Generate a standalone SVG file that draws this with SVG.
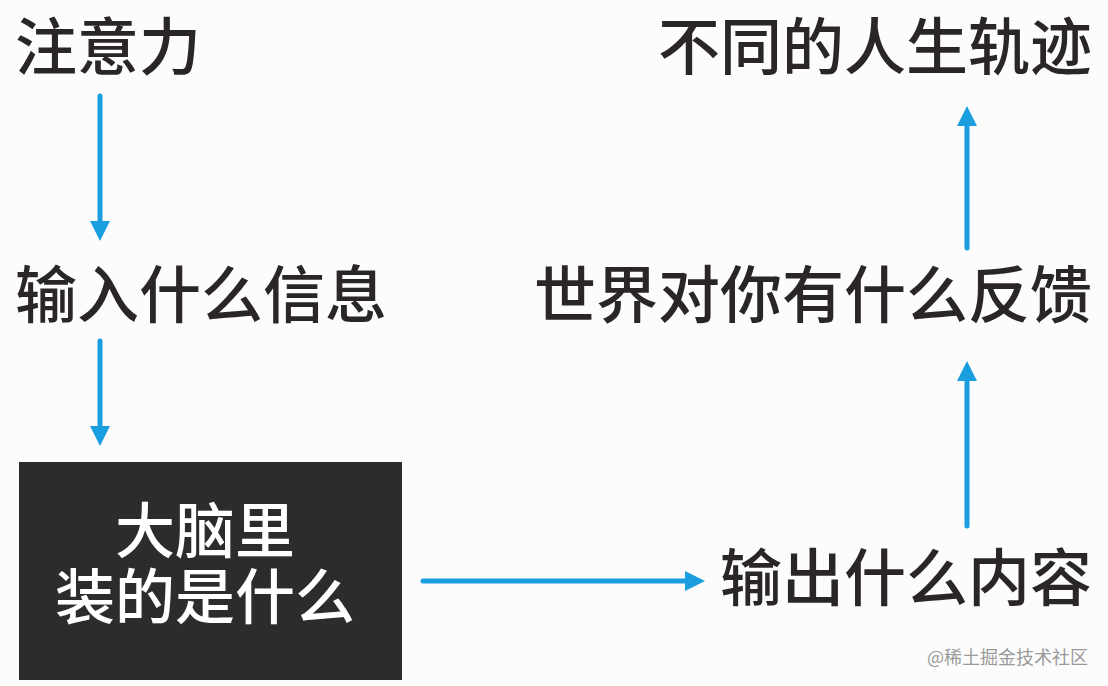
<svg xmlns="http://www.w3.org/2000/svg" width="1108" height="686" viewBox="0 0 1108 686">
<defs>
<style>
.t{font-family:"Noto Sans CJK SC","Noto Sans",sans-serif;font-size:62px;fill:#2a2628;font-weight:500}
.w{font-family:"Noto Sans CJK SC","Noto Sans",sans-serif;font-size:60px;fill:#ffffff;font-weight:500}
.c{stroke:#1a9ee0;stroke-width:5;fill:none;stroke-linecap:round;marker-end:url(#ah)}
.wm{font-family:"Noto Sans CJK SC","Noto Sans",sans-serif;font-size:18px;fill:#9a9a9a}
</style>
<marker id="ah" markerWidth="4" markerHeight="4" refX="1" refY="2" orient="auto" markerUnits="strokeWidth">
<path d="M0,0 L4,2 L0,4 Z" fill="#1a9ee0"/>
</marker>
</defs>
<rect width="1108" height="686" fill="#fcfcfd"/>
<g id="n1"><text class="t" x="15" y="70">注意力</text></g>
<g id="n2"><text class="t" x="15" y="318">输入什么信息</text></g>
<g id="n3"><rect x="19" y="462" width="383" height="218" fill="#2e2b2c"/>
<text class="w" x="205" y="553" text-anchor="middle">大脑里</text>
<text class="w" x="205" y="619" text-anchor="middle">装的是什么</text></g>
<g id="n4"><text class="t" x="1092" y="601" text-anchor="end">输出什么内容</text></g>
<g id="n5"><text class="t" x="1092" y="318" text-anchor="end">世界对你有什么反馈</text></g>
<g id="n6"><text class="t" x="1092" y="70" text-anchor="end">不同的人生轨迹</text></g>
<g id="connectors">
<line class="c" x1="100" y1="96" x2="100" y2="226"/>
<line class="c" x1="100" y1="341" x2="100" y2="431"/>
<line class="c" x1="423" y1="581" x2="690" y2="581"/>
<line class="c" x1="967" y1="526" x2="967" y2="376"/>
<line class="c" x1="967" y1="248" x2="967" y2="121"/>
</g>
<text class="wm" x="1088" y="664" text-anchor="end">@稀土掘金技术社区</text>
</svg>
